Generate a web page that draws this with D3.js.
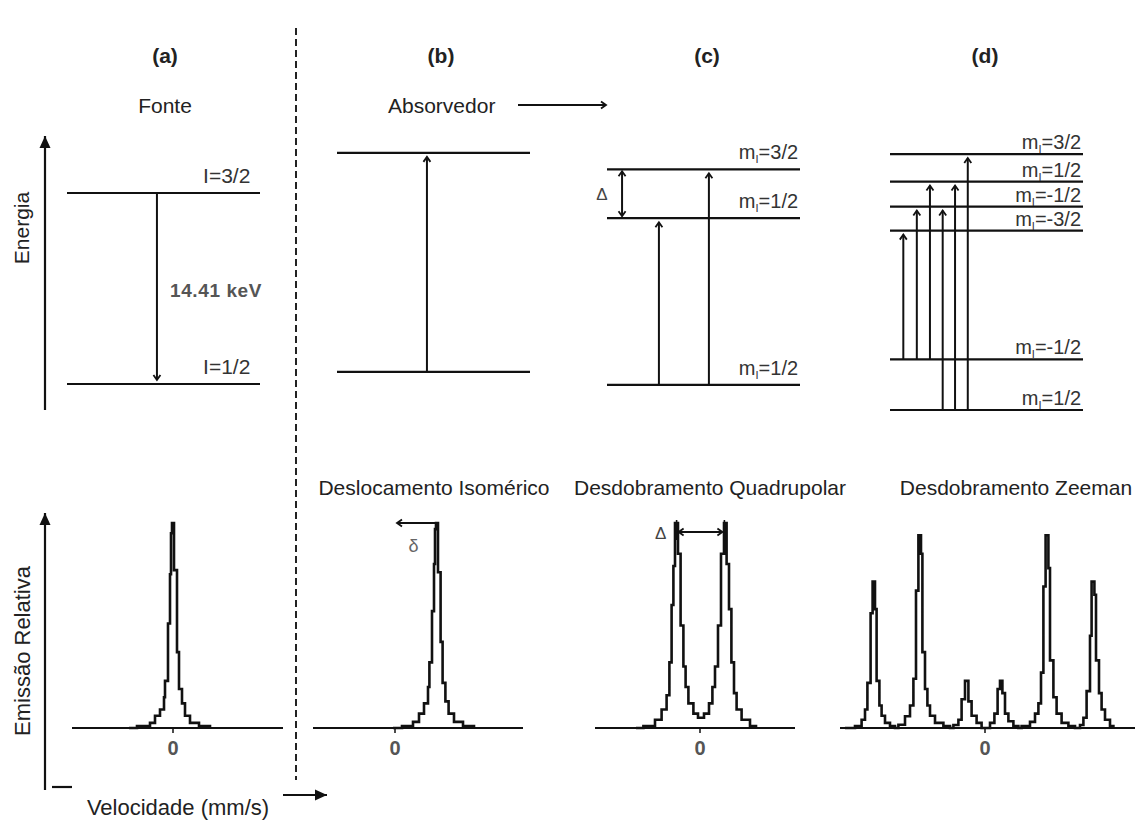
<!DOCTYPE html>
<html>
<head>
<meta charset="utf-8">
<script src="https://cdn.jsdelivr.net/npm/d3@7"></script>
<style>
  body { margin: 0; background: #fff; }
  text { font-family: "Liberation Sans", Arial, sans-serif; fill: #222; }
</style>
</head>
<body>
<div id="chart"></div>
<script>
// ---------- dados ----------
const panelLetters = ['(a)', '(b)', '(c)', '(d)'];
const spectrumTitles = ['', 'Deslocamento Isomérico', 'Desdobramento Quadrupolar', 'Desdobramento Zeeman'];

// níveis de energia (0 = I=1/2 da fonte, 100 = I=3/2 da fonte)
const levelsA = [{e: 100, label: 'I=3/2'}, {e: 0, label: 'I=1/2'}];
const levelsB = [{e: 121, label: ''}, {e: 6.3, label: ''}];
const levelsC = [{e: 112.4, m: '3/2'}, {e: 86.8, m: '1/2'}, {e: -0.5, m: '1/2'}];
const levelsD = [{e: 120.4, m: '3/2'}, {e: 106, m: '1/2'}, {e: 92.9, m: '-1/2'},
                 {e: 80.3, m: '-3/2'}, {e: 12.9, m: '-1/2'}, {e: -13.6, m: '1/2'}];

// transições: pos = posição ao longo do nível (0..1), from -> to (energia)
const transA = [{pos: 0.466, from: 100, to: 0}];
const transB = [{pos: 0.466, from: 6.3, to: 121}];
const transC = [{pos: 0.269, from: -0.5, to: 86.8}, {pos: 0.528, from: -0.5, to: 112.4}];
const transD = [{pos: 0.069, from: 12.9, to: 80.3}, {pos: 0.139, from: 12.9, to: 92.9},
                {pos: 0.207, from: 12.9, to: 106}, {pos: 0.273, from: -13.6, to: 92.9},
                {pos: 0.337, from: -13.6, to: 106}, {pos: 0.403, from: -13.6, to: 120.4}];
const quadSplit = {pos: 0.078, from: 112.4, to: 86.8};

// espectros: [velocidade (mm/s), emissão relativa (%)]
const specA = [[-2.2,0],[-1.8,1],[-1.15,2.5],[-0.9,6],[-0.65,9],[-0.45,15],[-0.4,23],[-0.25,51],
  [-0.15,75],[-0.1,95],[-0.05,100],[0.05,77],[0.2,37],[0.3,19],[0.45,12],[0.6,6],[0.85,2.5],[1.3,1],[1.85,0]];
const specB = [[-0.1,0],[0.35,1],[0.9,3],[1.2,7],[1.45,12],[1.65,20],[1.72,32],[1.85,57],
  [1.95,80],[2.0,97],[2.05,100],[2.15,76],[2.28,42],[2.38,22],[2.52,13],[2.68,7],[2.95,3],[3.4,1],[3.95,0]];
const specC = [[-3.2,0],[-2.83,1],[-2.25,4],[-1.92,9],[-1.67,16],[-1.53,32],[-1.42,60],[-1.33,79],
  [-1.25,100],[-1.1,85],[-0.97,50],[-0.83,30],[-0.72,20],[-0.58,12],[-0.33,7],[-0.1,5],[0.2,7],
  [0.45,12],[0.62,20],[0.75,30],[0.9,50],[1.05,85],[1.2,100],[1.33,80],[1.45,58],[1.57,32],
  [1.7,17],[1.83,9],[2.08,4],[2.5,1],[2.8,0]];
const specD = [[-7.0,0],[-6.5,1],[-6.17,4],[-6.0,9],[-5.88,22],[-5.72,56],[-5.62,71.5],[-5.5,58],
  [-5.42,23],[-5.28,11],[-5.17,6],[-5.0,2.5],[-4.75,1],[-4.5,0],
  [-4.33,1.6],[-4.0,5.7],[-3.75,11],[-3.58,24],[-3.45,67],[-3.33,94],[-3.2,85],[-3.13,37],
  [-3.0,19],[-2.88,11],[-2.75,6],[-2.5,2.5],[-2.08,1],[-1.75,0],
  [-1.58,1.5],[-1.33,4],[-1.17,14],[-1.0,23],[-0.83,13],[-0.67,6],[-0.42,2.5],[-0.17,0],
  [0.25,2.5],[0.47,7],[0.63,19],[0.75,23],[0.87,17],[1.0,7],[1.17,3.3],[1.42,1],[1.67,0],
  [1.83,1],[2.25,3],[2.5,7],[2.67,12],[2.8,27],[2.92,69],[3.03,94],[3.17,78],[3.25,33],
  [3.42,15],[3.58,7],[3.83,2.5],[4.17,1],[4.5,0],
  [4.75,1.5],[4.92,5],[5.08,18],[5.25,45],[5.33,71.5],[5.47,65],[5.55,33],[5.7,17],
  [5.83,9],[6.0,4],[6.25,1],[6.42,0]];
const isomerShift = 2.05;          // δ (mm/s)
const quadPeaks = [-1.17, 1.22];   // Δ (mm/s)

// ---------- layout ----------
const width = 1141, height = 824;
const letterX = [165, 441, 707, 985];
const levelLeft = [67, 337, 607, 890];
const levelWidth = 193;
const velDomains = [[-5.05, 5.5], [-4.1, 6.4], [-5.25, 4.75], [-7.25, 7.5]];
const velRanges = [[72, 283], [313, 523], [595, 795], [840, 1135]];
const titleX = [0, 434, 710, 1016];

const svg = d3.select('#chart').append('svg')
  .attr('width', width).attr('height', height);

const defs = svg.append('defs');
defs.append('marker')
  .attr('id', 'chev').attr('viewBox', '-7 -5 9 10')
  .attr('markerWidth', 9).attr('markerHeight', 10)
  .attr('markerUnits', 'userSpaceOnUse').attr('orient', 'auto-start-reverse')
  .append('path').attr('d', 'M-5,-3.5 L0,0 L-5,3.5')
  .attr('fill', 'none').attr('stroke', '#111').attr('stroke-width', 1.8);
defs.append('marker')
  .attr('id', 'tri').attr('viewBox', '-14 -7 15 14')
  .attr('markerWidth', 15).attr('markerHeight', 14)
  .attr('markerUnits', 'userSpaceOnUse').attr('orient', 'auto')
  .append('path').attr('d', 'M-12,-5.5 L0,0 L-12,5.5 Z').attr('fill', '#111');

// escala de energia (comum)
const energyY = d3.scaleLinear().domain([0, 100]).range([384, 193]);
// escala de emissão (comum)
const emisY = d3.scaleLinear().domain([0, 100]).range([728, 523]);

// linha tracejada
svg.append('line')
  .attr('x1', 296).attr('x2', 296).attr('y1', 28).attr('y2', 780)
  .attr('stroke', '#222').attr('stroke-width', 2).attr('stroke-dasharray', '7,4');

// letras dos painéis
svg.selectAll('text.letter').data(panelLetters).enter().append('text')
  .attr('class', 'letter')
  .attr('x', (d, i) => letterX[i]).attr('y', 63)
  .attr('text-anchor', 'middle')
  .style('font-size', '21px').style('font-weight', 'bold')
  .text(d => d);

svg.append('text').attr('x', 165).attr('y', 113).attr('text-anchor', 'middle')
  .style('font-size', '21px').text('Fonte');
svg.append('text').attr('x', 388).attr('y', 113)
  .style('font-size', '21px').text('Absorvedor');
svg.append('line').attr('x1', 518).attr('x2', 606).attr('y1', 105).attr('y2', 105)
  .attr('stroke', '#111').attr('stroke-width', 2).attr('marker-end', 'url(#chev)');

// eixo de energia
svg.append('line').attr('x1', 45).attr('x2', 45).attr('y1', 410).attr('y2', 136)
  .attr('stroke', '#111').attr('stroke-width', 2.2).attr('marker-end', 'url(#tri)');
svg.append('text').attr('transform', 'translate(29,228) rotate(-90)')
  .attr('text-anchor', 'middle').style('font-size', '21px').text('Energia');

// eixo de emissão e velocidade
svg.append('line').attr('x1', 45).attr('x2', 45).attr('y1', 790).attr('y2', 513)
  .attr('stroke', '#111').attr('stroke-width', 2.2).attr('marker-end', 'url(#tri)');
svg.append('text').attr('transform', 'translate(30,651) rotate(-90)')
  .attr('text-anchor', 'middle').style('font-size', '22px').text('Emissão Relativa');
svg.append('line').attr('x1', 52).attr('x2', 72).attr('y1', 787).attr('y2', 787)
  .attr('stroke', '#111').attr('stroke-width', 2.2);
svg.append('line').attr('x1', 283).attr('x2', 327).attr('y1', 795).attr('y2', 795)
  .attr('stroke', '#111').attr('stroke-width', 2.2).attr('marker-end', 'url(#tri)');
svg.append('text').attr('x', 178).attr('y', 815).attr('text-anchor', 'middle')
  .style('font-size', '22px').text('Velocidade (mm/s)');

// ---------- diagramas de níveis ----------
const allLevels = [levelsA, levelsB, levelsC, levelsD];
const allTrans = [transA, transB, transC, transD];

allLevels.forEach(function(levels, i) {
  const lx = d3.scaleLinear().domain([0, 1]).range([levelLeft[i], levelLeft[i] + levelWidth]);
  const g = svg.append('g');
  g.selectAll('line.level').data(levels).enter().append('line')
    .attr('class', 'level')
    .attr('x1', lx(0)).attr('x2', lx(1))
    .attr('y1', d => energyY(d.e)).attr('y2', d => energyY(d.e))
    .attr('stroke', '#111').attr('stroke-width', 2.2);

  // rótulos
  const labOff = i == 3 ? 5 : 10;
  levels.forEach(function(d) {
    if (d.label) {
      g.append('text').attr('x', lx(0.95)).attr('y', energyY(d.e) - labOff)
        .attr('text-anchor', 'end').style('font-size', '21px').style('fill', '#333')
        .text(d.label);
    } else if (d.m) {
      const t = g.append('text').attr('x', lx(0.99)).attr('y', energyY(d.e) - labOff)
        .attr('text-anchor', 'end').style('font-size', '20px').style('fill', '#333');
      t.append('tspan').text('m');
      t.append('tspan').attr('dy', 4).style('font-size', '11px').text('I');
      t.append('tspan').attr('dy', -4).text('=' + d.m);
    }
  });

  // transições
  g.selectAll('line.trans').data(allTrans[i]).enter().append('line')
    .attr('class', 'trans')
    .attr('x1', d => lx(d.pos)).attr('x2', d => lx(d.pos))
    .attr('y1', d => energyY(d.from))
    .attr('y2', d => energyY(d.to) + (d.to > d.from ? 4 : -4))
    .attr('stroke', '#111').attr('stroke-width', 2)
    .attr('marker-end', 'url(#chev)');
});

// 14.41 keV
svg.append('text').attr('x', 170).attr('y', 297)
  .style('font-size', '19px').style('font-weight', 'bold').style('fill', '#555')
  .style('letter-spacing', '0.6px')
  .text('14.41 keV');

// Δ nos níveis (c)
{
  const lx = d3.scaleLinear().domain([0, 1]).range([levelLeft[2], levelLeft[2] + levelWidth]);
  svg.append('line')
    .attr('x1', lx(quadSplit.pos)).attr('x2', lx(quadSplit.pos))
    .attr('y1', energyY(quadSplit.from) + 2).attr('y2', energyY(quadSplit.to) - 2)
    .attr('stroke', '#111').attr('stroke-width', 2)
    .attr('marker-start', 'url(#chev)').attr('marker-end', 'url(#chev)');
  svg.append('text').attr('x', lx(quadSplit.pos) - 20).attr('y', energyY((quadSplit.from + quadSplit.to) / 2) + 6)
    .attr('text-anchor', 'middle').style('font-size', '17px').style('fill', '#444').text('Δ');
}

// ---------- espectros ----------
const allSpec = [specA, specB, specC, specD];
const line = d3.line().curve(d3.curveStepAfter);

allSpec.forEach(function(spec, i) {
  const vx = d3.scaleLinear().domain(velDomains[i]).range(velRanges[i]);
  const g = svg.append('g');
  // linha de base
  g.append('line').attr('x1', vx.range()[0]).attr('x2', vx.range()[1])
    .attr('y1', emisY(0)).attr('y2', emisY(0))
    .attr('stroke', '#111').attr('stroke-width', 2.2);
  g.append('line').attr('x1', vx(0)).attr('x2', vx(0))
    .attr('y1', emisY(0)).attr('y2', emisY(0) + 5)
    .attr('stroke', '#111').attr('stroke-width', 1.5);
  g.append('text').attr('x', vx(0)).attr('y', 755).attr('text-anchor', 'middle')
    .style('font-size', '20px').style('font-weight', 'bold').style('fill', '#555').text('0');
  g.append('path')
    .attr('d', line.x(d => vx(d[0])).y(d => emisY(d[1]))(spec))
    .attr('fill', 'none').attr('stroke', '#111').attr('stroke-width', 2.6)
    .attr('stroke-linejoin', 'miter');
  if (spectrumTitles[i]) {
    svg.append('text').attr('x', titleX[i]).attr('y', 495).attr('text-anchor', 'middle')
      .style('font-size', '21px').text(spectrumTitles[i]);
  }
  if (i == 1) {
    svg.append('line').attr('x1', vx(isomerShift)).attr('x2', vx(0) + 2)
      .attr('y1', emisY(100)).attr('y2', emisY(100))
      .attr('stroke', '#111').attr('stroke-width', 2).attr('marker-end', 'url(#chev)');
    svg.append('text').attr('x', vx(isomerShift / 2) - 2).attr('y', 552).attr('text-anchor', 'middle')
      .style('font-size', '18px').style('fill', '#666').text('δ');
  }
  if (i == 2) {
    const yq = emisY(95.6);
    quadPeaks.forEach(function(v) {
      svg.append('line').attr('x1', vx(v)).attr('x2', vx(v)).attr('y1', yq - 12).attr('y2', yq + 8)
        .attr('stroke', '#111').attr('stroke-width', 1.6);
    });
    svg.append('line').attr('x1', vx(quadPeaks[0]) + 2).attr('x2', vx(quadPeaks[1]) - 2)
      .attr('y1', yq).attr('y2', yq)
      .attr('stroke', '#111').attr('stroke-width', 2)
      .attr('marker-start', 'url(#chev)').attr('marker-end', 'url(#chev)');
    svg.append('text').attr('x', vx(quadPeaks[0]) - 16).attr('y', yq + 7).attr('text-anchor', 'middle')
      .style('font-size', '17px').style('fill', '#444').text('Δ');
  }
});
</script>
</body>
</html>
